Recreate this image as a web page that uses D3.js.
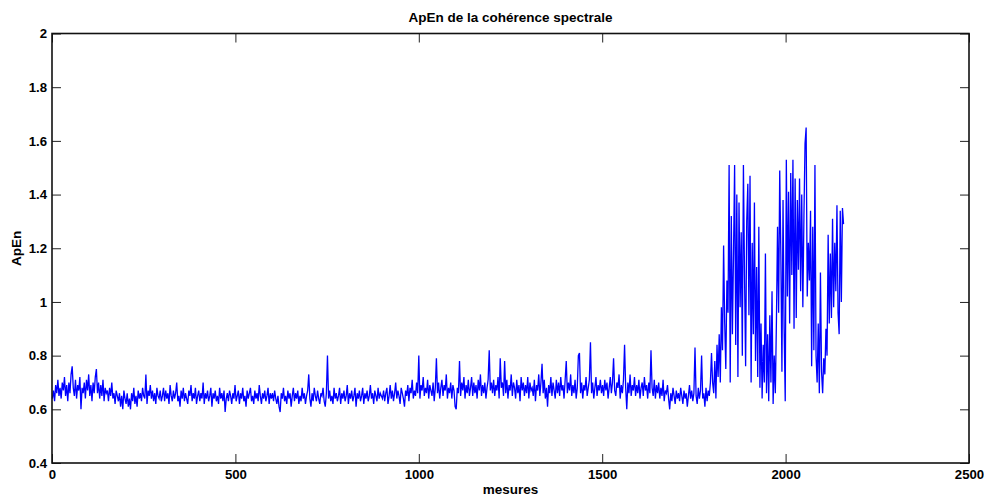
<!DOCTYPE html>
<html>
<head>
<meta charset="utf-8">
<script src="https://cdn.jsdelivr.net/npm/d3@7.9.0/dist/d3.min.js"></script>
<style>
  body { margin: 0; background: #fff; }
  svg { display: block; font-family: 'Liberation Sans', Arial, sans-serif; }
  .axis text { font-size: 13.2px; font-weight: bold; fill: #000; }
  .axis line { stroke: #222; }
  .label { font-size: 13.5px; font-weight: bold; }
</style>
</head>
<body>
<div id="chart"></div>
<script>
// ApEn x 100, one reading every 3 measures (starting at measure 1)
// measures 1 - 298
const a0 = [64,67,63,69,66,71,65,68,64,70, 67,72,65,69,63,70,66,73,76,68,
  65,71,64,69,67,72,60,68,66,70, 64,71,67,73,65,69,63,70,66,72,
  75,66,70,64,69,65,71,63,68,66, 67,63,68,65,70,64,66,62,67,65,
  63,66,61,65,60,67,64,62,66,61, 64,60,66,63,68,62,65,61,67,64,
  66,63,68,65,64,73,62,67,65,69, 64,67,63,66,62,68,65,64,67,63];
// measures 301 - 598
const a1 = [65,68,63,67,64,66,62,69,65,63, 67,64,66,70,63,65,61,67,64,68,
  63,66,64,62,67,65,69,63,66,64, 68,62,65,67,63,66,64,70,62,66,
  64,67,63,65,68,61,66,64,67,63, 65,62,68,64,66,63,67,59,64,66,
  63,67,65,62,66,64,69,63,65,67, 62,66,64,68,63,65,61,67,64,66,
  68,63,65,62,67,64,66,63,69,65, 62,66,64,67,63,65,68,62,66,64];
// measures 601 - 898
const a2 = [66,63,67,64,62,65,61,59,66,64, 68,63,65,62,67,64,66,61,65,68,
  63,66,64,67,62,65,63,68,64,66, 62,65,67,73,64,61,66,63,68,65,
  63,67,64,62,66,65,68,63,61,66, 80,64,67,63,65,62,68,64,66,63,
  65,68,62,66,64,67,63,65,69,62, 66,64,67,63,65,68,61,66,64,67,
  63,65,68,62,66,64,67,63,65,69, 64,66,62,67,65,63,68,64,66,65];
// measures 901 - 1198
const a3 = [64,67,63,66,68,62,65,69,64,67, 63,66,70,64,67,65,62,68,66,64,
  61,67,65,69,63,68,66,71,64,67, 65,70,66,80,64,69,67,72,65,68,
  66,71,64,69,67,65,70,63,68,79, 66,70,64,68,71,65,69,67,73,64,
  68,66,70,64,69,67,61,60,68,66, 78,65,70,67,72,64,69,66,71,65,
  68,72,65,70,66,69,64,71,67,73, 65,69,66,70,64,68,71,82,67,70];
// measures 1201 - 1498
const a4 = [66,71,65,69,67,72,64,79,68,70, 65,78,66,71,64,69,67,73,65,70,
  68,64,71,66,69,63,72,67,70,65, 69,66,72,64,70,67,68,65,71,63,
  69,67,73,65,70,77,66,71,64,68, 61,69,66,72,65,70,67,64,71,66,
  70,65,72,67,69,64,71,78,66,70, 67,73,65,69,66,71,64,68,80,81,
  66,70,64,69,67,72,65,68,71,85, 66,70,64,68,72,65,69,67,71,66];
// measures 1501 - 1798
const a5 = [69,65,71,67,70,64,68,72,66,70, 79,67,65,70,68,73,64,69,66,71,
  84,68,60,70,66,73,65,69,67,72, 65,69,66,71,64,68,70,65,72,67,
  69,64,70,66,82,68,65,71,64,69, 66,70,64,68,65,71,63,67,66,69,
  64,60,66,63,68,65,62,67,64,66, 63,68,65,62,67,64,66,61,65,69,
  64,67,63,66,83,65,62,68,64,67, 80,64,66,61,68,63,67,65,70,81];
// measures 1801 - 2098 (burst)
const a6 = [70,66,78,64,84,72,88,70,98,82, 121,92,75,108,96,151,70,132,88,118,
  151,84,140,72,137,98,126,80,151,110, 76,130,144,95,147,70,122,88,137,78,
  113,72,128,68,92,64,84,70,118,66, 88,63,95,70,104,62,80,66,93,128,
  96,149,118,74,138,90,63,153,102,141, 92,148,110,153,90,146,94,138,112,146,
  104,140,98,132,159,165,102,122,108,134, 76,128,82,151,80,70,92,66,111,74];
// measures 2101 - 2158
const a7 = [66,79,73,90,80,125,92,118,94,131, 98,122,104,136,96,88,134,100,135,129];

const xTicks = [0, 500, 1000, 1500, 2000, 2500];
const yTicks = [0.4, 0.6, 0.8, 1, 1.2, 1.4, 1.6, 1.8, 2];

const step = 3;
const firstMeasure = 1;

const data = [...a0, ...a1, ...a2, ...a3, ...a4, ...a5, ...a6, ...a7]
  .map((v, i) => ({ x: firstMeasure + i * step, y: v / 100 }));

const width = 984;
const height = 497;
const margin = { top: 33.5, right: 15, bottom: 34, left: 52 };

const svg = d3.select('#chart')
  .append('svg')
  .attr('width', width)
  .attr('height', height);

const x = d3.scaleLinear()
  .domain([0, 2500])
  .range([margin.left, width - margin.right]);

const y = d3.scaleLinear()
  .domain([0.4, 2])
  .range([height - margin.bottom, margin.top]);

// ticks inside the box, matlab style
svg.append('g')
  .attr('class', 'axis')
  .attr('transform', `translate(0,${y(0.4)})`)
  .call(d3.axisBottom(x).tickValues(xTicks).tickSize(-9).tickSizeOuter(0).tickPadding(7)
    .tickFormat(d3.format('d')))
  .call((g) => g.select('.domain').remove());

svg.append('g')
  .attr('class', 'axis')
  .attr('transform', `translate(0,${y(2)})`)
  .call(d3.axisTop(x).tickValues(xTicks).tickSize(-9).tickSizeOuter(0).tickFormat(''))
  .call((g) => g.select('.domain').remove());

svg.append('g')
  .attr('class', 'axis')
  .attr('transform', `translate(${x(0)},0)`)
  .call(d3.axisLeft(y).tickValues(yTicks).tickSize(-9).tickSizeOuter(0).tickPadding(5)
    .tickFormat(d3.format('~g')))
  .call((g) => g.select('.domain').remove());

svg.append('g')
  .attr('class', 'axis')
  .attr('transform', `translate(${x(2500)},0)`)
  .call(d3.axisRight(y).tickValues(yTicks).tickSize(-9).tickSizeOuter(0).tickFormat(''))
  .call((g) => g.select('.domain').remove());

const line = d3.line()
  .x((d) => x(d.x))
  .y((d) => y(d.y));

svg.append('path')
  .datum(data)
  .attr('fill', 'none')
  .attr('stroke', '#0000ff')
  .attr('stroke-width', 1.3)
  .attr('d', line);

// box
svg.append('rect')
  .attr('x', x(0))
  .attr('y', y(2))
  .attr('width', x(2500) - x(0))
  .attr('height', y(0.4) - y(2))
  .attr('fill', 'none')
  .attr('stroke', '#111')
  .attr('stroke-width', 1.6);

svg.append('text')
  .attr('class', 'label')
  .attr('x', (x(0) + x(2500)) / 2)
  .attr('y', 22)
  .attr('text-anchor', 'middle')
  .text('ApEn de la cohérence spectrale');

svg.append('text')
  .attr('class', 'label')
  .attr('x', (x(0) + x(2500)) / 2)
  .attr('y', 494)
  .attr('text-anchor', 'middle')
  .text('mesures');

svg.append('text')
  .attr('class', 'label')
  .attr('transform', 'rotate(-90)')
  .attr('x', -(y(0.4) + y(2)) / 2)
  .attr('y', 21)
  .attr('text-anchor', 'middle')
  .text('ApEn');
</script>
</body>
</html>
